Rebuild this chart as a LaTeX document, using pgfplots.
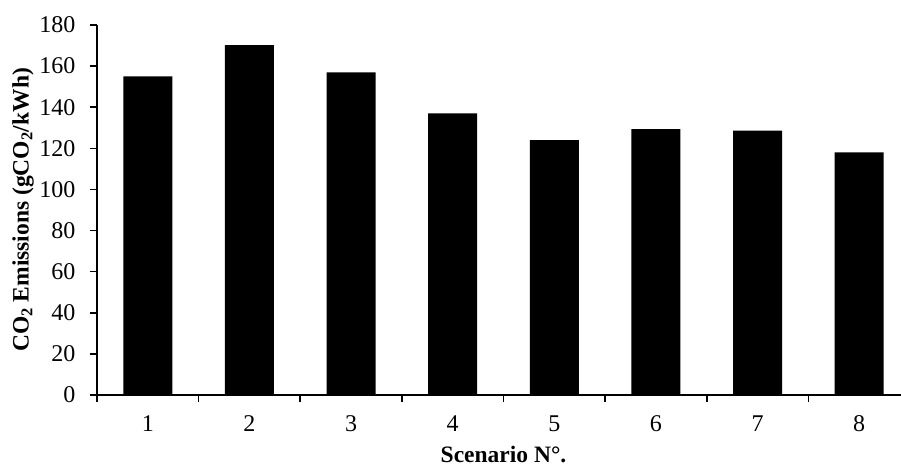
\documentclass[border=0pt]{standalone}
\usepackage{pgfplots}
\pgfplotsset{compat=1.18}
\usepackage{fontspec}
\setmainfont{Liberation Serif}
\begin{document}
\begin{tikzpicture}
\begin{axis}[
  name=ax,
  scale only axis,
  width=813pt, height=370pt,
  xmin=0.5, xmax=8.5, ymin=0, ymax=180,
  /pgf/number format/assume math mode=true,
  axis lines=left,
  axis line style={-, line width=1.5pt, black},
  ytick={0,20,...,180},
  xtick={0.5,1.5,...,8.5},
  xticklabels={},
  extra x ticks={1,2,3,4,5,6,7,8},
  extra x tick labels={1,2,3,4,5,6,7,8},
  extra x tick style={major tick length=0pt, xticklabel style={yshift=-13pt}},
  tick align=outside,
  major tick length=7pt,
  tick style={black, line width=1.5pt},
  every tick label/.append style={font=\fontsize{24}{28}\selectfont},
  yticklabel style={xshift=-11pt},
  xticklabel style={yshift=-4pt},
  xlabel={\textbf{Scenario N°.}},
  ylabel={\textbf{CO\textsubscript{2} Emissions (gCO\textsubscript{2}/kWh)}},
  label style={font=\fontsize{23.5}{28}\selectfont},
  xlabel style={at={(axis description cs:0.5,0)}, anchor=base, yshift=-67pt},
  ylabel style={at={(axis description cs:0,0.5)}, anchor=center, yshift=74pt},
  ybar,
  bar width=49pt,
  clip=false,
]
\addplot[fill=black, draw=none] coordinates {
  (1,155.0) (2,170.2) (3,157.0) (4,137.0) (5,124.0) (6,129.4) (7,128.6) (8,118.0)
};
\end{axis}
\pgfresetboundingbox
\path ([xshift=-97pt,yshift=-73pt]ax.south west) rectangle ++(901pt,468pt);
\end{tikzpicture}
\end{document}
